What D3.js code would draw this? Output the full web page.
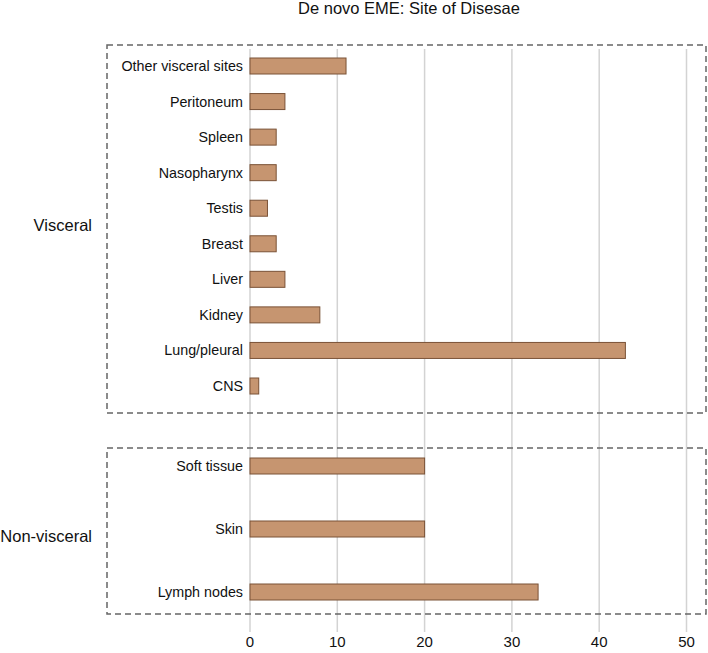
<!DOCTYPE html>
<html><head><meta charset="utf-8">
<script src="https://cdn.jsdelivr.net/npm/d3@7"></script>
<style>body{margin:0;background:#fff}svg{display:block;font-family:"Liberation Sans",Arial,sans-serif}</style>
</head><body><svg id="c" width="708" height="653"></svg>
<script>
const title = "De novo EME: Site of Disesae";
const visceralSites = ["Other visceral sites","Peritoneum","Spleen","Nasopharynx","Testis","Breast","Liver","Kidney","Lung/pleural","CNS"];
const visceralValues = [11,4,3,3,2,3,4,8,43,1];
const nonVisceralSites = ["Soft tissue","Skin","Lymph nodes"];
const nonVisceralValues = [20,20,33];
const groupLabels = ["Visceral","Non-visceral"];
const xTicks = [0,10,20,30,40,50];

const svg = d3.select("#c");
const x = d3.scaleLinear().domain([0,50]).range([250,686.5]);

// gridlines
svg.append("g").selectAll("line").data(xTicks).join("line")
  .attr("x1",d=>x(d)).attr("x2",d=>x(d)).attr("y1",49).attr("y2",632)
  .attr("stroke","#d3d3d3").attr("stroke-width",1.5);

// axis labels
svg.append("g").selectAll("text").data(xTicks).join("text")
  .attr("x",d=>x(d)).attr("y",647).attr("text-anchor","middle")
  .attr("font-size",15).attr("fill","#111").text(d=>d);

svg.append("text").attr("x",409).attr("y",14).attr("text-anchor","middle")
  .attr("font-size",16.5).attr("fill","#111").text(title);

const panels = [
  {name:groupLabels[0], sites:visceralSites, values:visceralValues, r:[66,386], box:[45,413], ly:231},
  {name:groupLabels[1], sites:nonVisceralSites, values:nonVisceralValues, r:[466,592], box:[448,614], ly:542}
];
const bh = 16;
panels.forEach(p=>{
  const y = d3.scalePoint().domain(p.sites).range(p.r);
  const data = p.sites.map((s,i)=>({s, v:p.values[i]}));
  svg.append("rect").attr("x",107).attr("y",p.box[0]).attr("width",599).attr("height",p.box[1]-p.box[0])
    .attr("fill","none").attr("stroke","#666").attr("stroke-width",1.5).attr("stroke-dasharray","6,4");
  svg.append("g").selectAll("rect").data(data).join("rect")
    .attr("x",x(0)).attr("y",d=>y(d.s)-bh/2).attr("width",d=>x(d.v)-x(0)).attr("height",bh)
    .attr("fill","#c69570").attr("stroke","#7a5236").attr("stroke-width",1);
  svg.append("g").selectAll("text").data(data).join("text")
    .attr("x",243).attr("y",d=>y(d.s)+5).attr("text-anchor","end")
    .attr("font-size",14.3).attr("fill","#111").text(d=>d.s);
  svg.append("text").attr("x",92).attr("y",p.ly).attr("text-anchor","end")
    .attr("font-size",16.5).attr("fill","#111").text(p.name);
});
</script></body></html>
